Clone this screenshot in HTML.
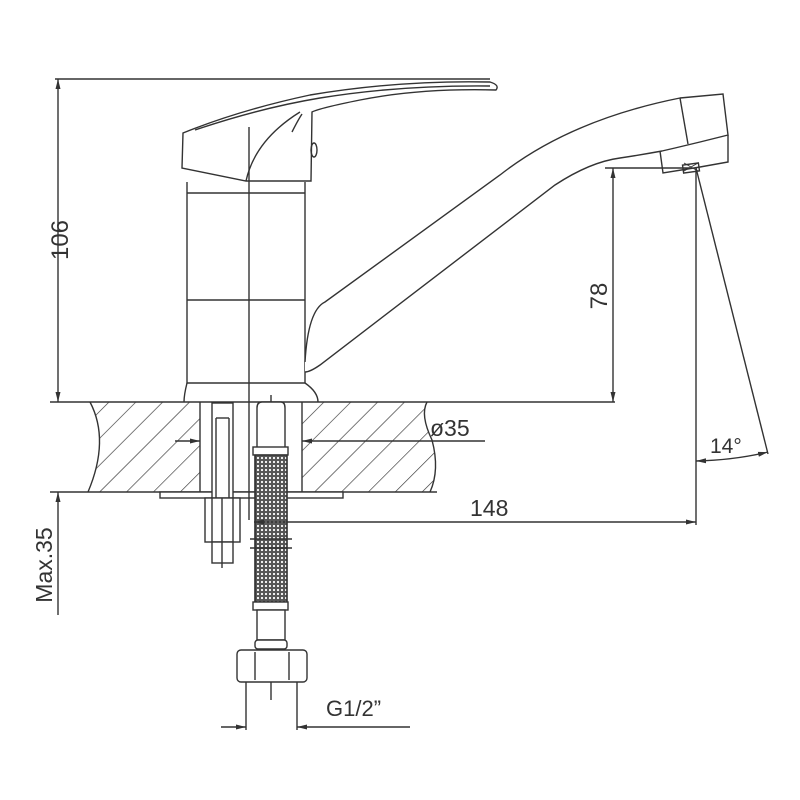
<!DOCTYPE html>
<html><head><meta charset="utf-8"><style>html,body{margin:0;padding:0;background:#fff}svg{display:block}</style></head>
<body>
<svg width="800" height="800" viewBox="0 0 800 800" xmlns="http://www.w3.org/2000/svg">
<defs>
<pattern id="hatch" patternUnits="userSpaceOnUse" width="19" height="19" patternTransform="rotate(45)">
<line x1="0" y1="0" x2="0" y2="19" stroke="#333" stroke-width="1.3"/>
</pattern>
<pattern id="braid" patternUnits="userSpaceOnUse" width="4" height="4">
<rect width="4" height="4" fill="#555"/>
<circle cx="2" cy="2" r="1.1" fill="#fff"/>
</pattern>
<marker id="ar" markerWidth="10" markerHeight="6" refX="10" refY="3" orient="auto-start-reverse" markerUnits="userSpaceOnUse">
<path d="M0,0.5 L10,3 L0,5.5 Z" fill="#333"/>
</marker>
</defs>
<g fill="none" stroke="#333" stroke-width="1.4" font-family="Liberation Sans, sans-serif">
<path d="M90,402 Q110,440 88,492 L200,492 L200,402 Z" fill="url(#hatch)" stroke="none"/>
<path d="M302,402 L427,402 Q420,415 432,440 Q440,470 430,492 L302,492 Z" fill="url(#hatch)" stroke="none"/>
<path d="M90,402 Q110,440 88,492"/>
<path d="M427,402 Q420,415 432,440 Q440,470 430,492"/>
<line x1="50" y1="402" x2="615" y2="402"/>
<line x1="50" y1="492" x2="437" y2="492"/>
<line x1="200" y1="402" x2="200" y2="492"/>
<line x1="302" y1="402" x2="302" y2="492"/>
<rect x="160" y="492" width="183" height="6" fill="#fff"/>

<line x1="55" y1="79" x2="490" y2="79"/>
<line x1="58" y1="79" x2="58" y2="402" marker-start="url(#ar)" marker-end="url(#ar)"/>
<line x1="58" y1="492" x2="58" y2="615" marker-start="url(#ar)"/>
<text x="0" y="0" transform="translate(68,240) rotate(-90)" text-anchor="middle" font-size="24" fill="#333" stroke="none">106</text>
<text x="0" y="0" transform="translate(52,565) rotate(-90)" text-anchor="middle" font-size="23" fill="#333" stroke="none">Max.35</text>

<path d="M187,182 L187,383 L305,383 L305,182" fill="#fff"/>
<line x1="187" y1="193" x2="305" y2="193"/>
<line x1="187" y1="300" x2="305" y2="300"/>
<path d="M187,383 Q184,395 184,402 M305,383 Q318,392 318,402"/>
<path d="M305,362 Q308,310 325,302 L500,175 Q570,120 680,98 L723,94 L728,135 L700,142 L675,148 L662,151 Q640,155 620,158 Q590,162 555,185 L320,365 Q310,372 305,372" fill="#fff"/>
<line x1="680" y1="98" x2="688" y2="144"/>
<path d="M660,151 L663,173 L700,167 L728,162 L728,135"/>
<rect x="683" y="164" width="16" height="8" transform="rotate(-8 691 168)"/>
<path d="M684,171 L698,163 M684,163 L698,171" stroke-width="1"/>
<path d="M183,133 Q240,110 310,95 Q400,80 490,82 Q500,85 496,90 Q420,88 360,100 Q320,108 312,112 L311,181 L246,181 L182,168 Z" fill="#fff"/>
<path d="M195,130 Q260,108 320,98 Q400,85 490,86"/>
<path d="M246,181 Q255,140 300,112"/>
<path d="M292,132 Q298,120 302,114"/>
<ellipse cx="314" cy="150" rx="3" ry="7"/>

<line x1="249" y1="127" x2="249" y2="520"/>
<line x1="271" y1="395" x2="271" y2="700"/>

<rect x="212" y="403" width="21" height="95" fill="#fff"/>
<line x1="216" y1="418" x2="229" y2="418"/>
<line x1="216" y1="418" x2="216" y2="498"/><line x1="229" y1="418" x2="229" y2="498"/>
<rect x="205" y="498" width="35" height="44" fill="#fff"/>
<line x1="212" y1="498" x2="212" y2="542"/><line x1="233" y1="498" x2="233" y2="542"/>
<rect x="212" y="542" width="21" height="21" fill="#fff"/>
<line x1="222" y1="498" x2="222" y2="568"/>

<path d="M257,447 L257,408 Q257,402 262,402 L281,402 Q285,402 285,408 L285,447" fill="#fff"/>
<rect x="253" y="447" width="35" height="8" fill="#fff"/>
<rect x="255" y="455" width="32" height="147" fill="url(#braid)"/>
<line x1="255" y1="455" x2="255" y2="602"/><line x1="287" y1="455" x2="287" y2="602"/>
<line x1="250" y1="539" x2="292" y2="539"/><line x1="250" y1="548" x2="292" y2="548"/>
<rect x="253" y="602" width="35" height="8" fill="#fff"/>
<rect x="257" y="610" width="28" height="30" fill="#fff"/>
<rect x="255" y="640" width="32" height="9" rx="3" fill="#fff"/>
<rect x="237" y="650" width="70" height="32" rx="4" fill="#fff"/>
<line x1="255" y1="652" x2="255" y2="680"/><line x1="289" y1="652" x2="289" y2="680"/>
<line x1="246" y1="682" x2="246" y2="730"/><line x1="297" y1="682" x2="297" y2="730"/>

<line x1="175" y1="441" x2="200" y2="441" marker-end="url(#ar)"/>
<line x1="302" y1="441" x2="485" y2="441" marker-start="url(#ar)"/>
<text x="430" y="436" font-size="23" fill="#333" stroke="none">ø35</text>
<line x1="254" y1="522" x2="696" y2="522" marker-start="url(#ar)" marker-end="url(#ar)"/>
<text x="470" y="516" font-size="23" fill="#333" stroke="none">148</text>
<line x1="605" y1="168" x2="690" y2="168"/>
<line x1="613" y1="168" x2="613" y2="402" marker-start="url(#ar)" marker-end="url(#ar)"/>
<text x="0" y="0" transform="translate(607,296) rotate(-90)" text-anchor="middle" font-size="24" fill="#333" stroke="none">78</text>
<line x1="696" y1="168" x2="696" y2="525"/>
<line x1="696" y1="168" x2="768" y2="454"/>
<path d="M696,461 Q735,460 768,452" marker-start="url(#ar)" marker-end="url(#ar)"/>
<text x="710" y="453" font-size="21" fill="#333" stroke="none">14°</text>
<line x1="221" y1="727" x2="246" y2="727" marker-end="url(#ar)"/>
<line x1="297" y1="727" x2="410" y2="727" marker-start="url(#ar)"/>
<text x="326" y="716" font-size="22" fill="#333" stroke="none">G1/2”</text>
</g>
</svg>
</body></html>
